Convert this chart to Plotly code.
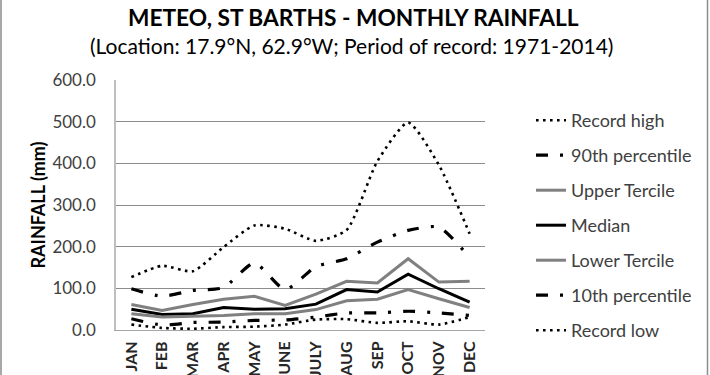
import plotly.graph_objects as go

months = ["JAN", "FEB", "MAR", "APR", "MAY", "JUNE", "JULY", "AUG", "SEP", "OCT", "NOV", "DEC"]
record_high = [127, 154, 141, 199, 251, 243, 214, 240, 405, 498, 396, 231]
p90 = [99, 81, 95, 102, 161, 97, 152, 171, 211, 239, 247, 174]
upper_tercile = [61, 47, 61, 74, 81, 59, 86, 117, 113, 171, 115, 117]
median = [50, 37, 39, 54, 50, 51, 62, 97, 91, 134, 99, 67]
lower_tercile = [39, 31, 33, 35, 39, 39, 49, 70, 74, 97, 75, 54]
p10 = [27, 12, 18, 19, 23, 24, 31, 41, 41, 45, 41, 35]
record_low = [13, 5, 3, 7, 8, 13, 25, 26, 17, 21, 13, 31]
y_ticks = [0, 100, 200, 300, 400, 500, 600]

W, H = 710, 375
L, R, T, B = 116, 485, 80, 330

series = [
    ("Record high", record_high, dict(color="black", width=2.6, dash="2.6px,4.4px"), "spline"),
    ("90th percentile", p90, dict(color="black", width=3.2, dash="12px,12px,3px,12px"), "spline"),
    ("Upper Tercile", upper_tercile, dict(color="#808080", width=3), "linear"),
    ("Median", median, dict(color="black", width=3), "linear"),
    ("Lower Tercile", lower_tercile, dict(color="#808080", width=3), "linear"),
    ("10th percentile", p10, dict(color="black", width=3.2, dash="12px,12px,3px,12px"), "spline"),
    ("Record low", record_low, dict(color="black", width=2.6, dash="2.6px,4.4px"), "spline"),
]

fig = go.Figure()
for i, (name, vals, line, shape) in enumerate(series):
    line = dict(line)
    line["shape"] = shape
    if shape == "spline":
        line["smoothing"] = 0.6
    fig.add_trace(go.Scatter(x=months, y=vals, name=name, mode="lines",
                             line=line, legendgroup=f"g{i}"))

def px_x(px):
    return (px - L) / (R - L)

def px_y(py):
    return (B - py) / (B - T)

fig.update_layout(
    width=W, height=H,
    margin=dict(l=L, r=W - R, t=T, b=H - B, pad=0, autoexpand=False),
    paper_bgcolor="white", plot_bgcolor="white",
    font=dict(family="Lato, 'Open Sans', sans-serif", color="#404040", size=15),
    showlegend=True,
    legend=dict(x=px_x(531), y=px_y(102), xanchor="left", yanchor="top",
                traceorder="grouped", tracegroupgap=8.6, maxheight=400,
                font=dict(size=18, color="#404040"),
                bgcolor="rgba(0,0,0,0)", borderwidth=0),
    xaxis=dict(type="category", tickangle=-90, showgrid=False, automargin=False,
               showline=True, linecolor="#a6a6a6", linewidth=1,
               ticks="", ticklabelstandoff=4,
               tickfont=dict(size=16, color="#262626", family="Lato, sans-serif", weight="bold"),
               range=[-0.5, 11.5]),
    yaxis=dict(range=[0, 600], tickvals=y_ticks, tickformat=".1f", automargin=False,
               showgrid=True, gridcolor="#8c8c8c", gridwidth=1,
               showline=True, linecolor="#bfbfbf", linewidth=1.5,
               zeroline=False, ticks="", ticklabelstandoff=15,
               tickfont=dict(size=17, color="#404040"),
               title=dict(text="<b>RAINFALL (mm)</b>", font=dict(size=18, color="black"), standoff=2)),
    annotations=[
        dict(text="<b>METEO, ST BARTHS - MONTHLY RAINFALL</b>", xref="paper", yref="paper",
             x=px_x(353), y=px_y(17), xanchor="center", yanchor="middle", showarrow=False,
             font=dict(size=22.7, color="black")),
        dict(text="(Location: 17.9°N, 62.9°W; Period of record: 1971-2014)", xref="paper", yref="paper",
             x=px_x(351), y=px_y(45), xanchor="center", yanchor="middle", showarrow=False,
             font=dict(size=21, color="black")),
    ],
    shapes=[
        dict(type="rect", xref="paper", yref="paper",
             x0=px_x(1), x1=px_x(707.5), y0=px_y(-5), y1=px_y(380),
             line=dict(color="#8c8c8c", width=1.5), layer="above"),
    ],
)

fig.write_html("out.html", config={"displayModeBar": False},
               post_script="document.body.style.margin='0';document.body.style.overflow='hidden';")
